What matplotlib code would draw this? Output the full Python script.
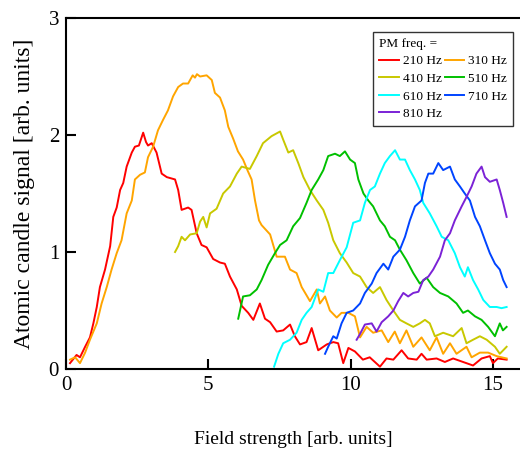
import matplotlib
matplotlib.use('Agg')
import matplotlib.pyplot as plt

plt.rcParams['font.family'] = ['Liberation Serif', 'DejaVu Serif']

# PM frequency series: field strength (x) and atomic candle signal (y)
x_210 = [0.14, 0.37, 0.49, 0.67, 0.84, 0.96, 1.08, 1.19, 1.37, 1.55, 1.66, 1.78, 1.90, 2.01, 2.13, 2.31,
         2.42, 2.56, 2.71, 2.81, 2.88, 3.01, 3.18, 3.36, 3.54, 3.83, 3.94, 4.06, 4.29, 4.41, 4.59, 4.76,
         4.94, 5.17, 5.41, 5.58, 5.76, 6.0, 6.17, 6.4, 6.58, 6.81, 6.99, 7.17, 7.40, 7.63, 7.87, 8.04,
         8.22, 8.45, 8.63, 8.86, 9.16, 9.39, 9.56, 9.74, 9.92, 10.15, 10.43, 10.67, 11.03, 11.26, 11.50,
         11.79, 12.02, 12.32, 12.49, 12.67, 13.02, 13.31, 13.60, 13.95, 14.30, 14.60, 14.89, 15.0, 15.17, 15.48]
y_210 = [0.05, 0.12, 0.10, 0.19, 0.27, 0.39, 0.53, 0.70, 0.85, 1.05, 1.30, 1.38, 1.53, 1.59, 1.73, 1.85,
         1.90, 1.91, 2.02, 1.94, 1.91, 1.93, 1.85, 1.67, 1.64, 1.62, 1.53, 1.36, 1.38, 1.36, 1.16, 1.06,
         1.04, 0.94, 0.91, 0.90, 0.79, 0.68, 0.54, 0.48, 0.42, 0.56, 0.43, 0.40, 0.32, 0.33, 0.38, 0.28,
         0.21, 0.23, 0.35, 0.16, 0.21, 0.23, 0.22, 0.05, 0.18, 0.15, 0.08, 0.10, 0.02, 0.09, 0.08,
         0.16, 0.09, 0.08, 0.13, 0.08, 0.09, 0.06, 0.09, 0.06, 0.03, 0.09, 0.11, 0.05, 0.09, 0.08]

x_310 = [0.14, 0.32, 0.49, 0.67, 0.84, 1.08, 1.25, 1.43, 1.60, 1.78, 1.95, 2.13, 2.31, 2.42, 2.60, 2.77,
         2.88, 3.06, 3.23, 3.41, 3.58, 3.76, 3.94, 4.11, 4.29, 4.45, 4.53, 4.60, 4.71, 4.94, 5.12, 5.23,
         5.41, 5.58, 5.70, 5.87, 6.04, 6.22, 6.39, 6.52, 6.64, 6.78, 6.87, 7.17, 7.40, 7.69, 7.87, 8.10,
         8.28, 8.45, 8.57, 8.81, 8.92, 9.10, 9.27, 9.51, 9.68, 9.92, 10.15, 10.33, 10.56, 10.79, 11.09,
         11.32, 11.55, 11.73, 11.96, 12.20, 12.49, 12.78, 13.02, 13.25, 13.49, 13.72, 14.07, 14.25, 14.54,
         14.83, 15.13, 15.48]
y_310 = [0.08, 0.10, 0.05, 0.14, 0.25, 0.39, 0.56, 0.70, 0.85, 0.99, 1.10, 1.33, 1.44, 1.62, 1.66, 1.68,
         1.81, 1.90, 2.04, 2.13, 2.21, 2.33, 2.41, 2.44, 2.44, 2.51, 2.49, 2.52, 2.50, 2.51, 2.47, 2.36,
         2.32, 2.21, 2.07, 1.97, 1.86, 1.79, 1.69, 1.62, 1.44, 1.27, 1.23, 1.15, 0.96, 0.96, 0.85, 0.82,
         0.70, 0.63, 0.58, 0.68, 0.56, 0.62, 0.50, 0.44, 0.48, 0.48, 0.45, 0.27, 0.36, 0.31, 0.33,
         0.23, 0.32, 0.22, 0.33, 0.19, 0.27, 0.16, 0.27, 0.13, 0.22, 0.13, 0.19, 0.10, 0.14,
         0.14, 0.11, 0.09]

x_410 = [3.83, 3.94, 4.06, 4.18, 4.36, 4.59, 4.71, 4.82, 4.94, 5.06, 5.29, 5.52, 5.76, 6.0, 6.17, 6.46,
         6.70, 6.92, 7.22, 7.52, 7.63, 7.81, 7.98, 8.16, 8.34, 8.57, 8.81, 9.04, 9.21, 9.39, 9.62, 9.86,
         10.09, 10.33, 10.56, 10.79, 11.03, 11.26, 11.5, 11.73, 11.96, 12.20, 12.43, 12.61, 12.78, 12.96,
         13.25, 13.60, 13.90, 14.07, 14.30, 14.54, 14.78, 15.07, 15.24, 15.48]
y_410 = [1.00, 1.05, 1.13, 1.10, 1.15, 1.16, 1.26, 1.30, 1.21, 1.33, 1.37, 1.50, 1.56, 1.67, 1.73, 1.71,
         1.82, 1.93, 1.99, 2.03, 1.96, 1.85, 1.87, 1.76, 1.64, 1.53, 1.44, 1.36, 1.25, 1.10, 0.99, 0.91,
         0.82, 0.79, 0.70, 0.65, 0.70, 0.59, 0.50, 0.42, 0.39, 0.36, 0.39, 0.42, 0.39, 0.28,
         0.31, 0.28, 0.35, 0.22, 0.25, 0.28, 0.25, 0.19, 0.13, 0.19]

x_510 = [6.05, 6.22, 6.46, 6.70, 6.87, 7.1, 7.34, 7.52, 7.75, 7.98, 8.22, 8.45, 8.63, 8.86, 9.04, 9.21,
         9.45, 9.62, 9.80, 9.98, 10.15, 10.27, 10.45, 10.62, 10.79, 11.03, 11.2, 11.38, 11.56, 11.73,
         11.96, 12.20, 12.43, 12.67, 12.90, 13.14, 13.43, 13.72, 13.95, 14.12, 14.37, 14.60, 14.83,
         15.07, 15.24, 15.35, 15.48]
y_510 = [0.43, 0.62, 0.63, 0.68, 0.76, 0.89, 0.99, 1.06, 1.10, 1.22, 1.29, 1.42, 1.53, 1.62, 1.70, 1.82,
         1.84, 1.82, 1.86, 1.79, 1.76, 1.62, 1.50, 1.44, 1.39, 1.27, 1.22, 1.13, 1.10, 1.02,
         0.93, 0.82, 0.73, 0.78, 0.70, 0.65, 0.62, 0.56, 0.48, 0.50, 0.45, 0.42, 0.36,
         0.28, 0.39, 0.33, 0.36]

x_610 = [7.31, 7.46, 7.63, 7.87, 8.10, 8.28, 8.45, 8.63, 8.86, 9.04, 9.21, 9.39, 9.62, 9.86, 10.09,
         10.33, 10.5, 10.68, 10.85, 11.03, 11.2, 11.38, 11.56, 11.73, 11.91, 12.08, 12.26, 12.43, 12.55,
         12.78, 13.02, 13.2, 13.43, 13.66, 13.84, 14.01, 14.12, 14.30, 14.48, 14.66, 14.89, 15.13, 15.3, 15.48]
y_610 = [0.02, 0.13, 0.22, 0.25, 0.31, 0.42, 0.48, 0.53, 0.68, 0.66, 0.82, 0.82, 0.93, 1.04, 1.25,
         1.27, 1.42, 1.53, 1.56, 1.67, 1.76, 1.82, 1.87, 1.79, 1.79, 1.70, 1.62, 1.53, 1.42,
         1.33, 1.22, 1.13, 1.10, 0.99, 0.87, 0.79, 0.87, 0.76, 0.68, 0.59, 0.53, 0.53, 0.52, 0.53]

x_710 = [9.10, 9.21, 9.39, 9.51, 9.68, 9.86, 10.09, 10.33, 10.50, 10.74, 10.91, 11.15, 11.32, 11.5,
         11.73, 11.91, 12.08, 12.26, 12.49, 12.61, 12.73, 12.90, 13.08, 13.25, 13.49, 13.66, 13.84,
         14.01, 14.19, 14.37, 14.54, 14.72, 14.89, 15.07, 15.24, 15.36, 15.48]
y_710 = [0.13, 0.19, 0.28, 0.26, 0.39, 0.48, 0.50, 0.56, 0.65, 0.73, 0.82, 0.90, 0.85, 0.96,
         1.02, 1.13, 1.27, 1.39, 1.44, 1.59, 1.67, 1.67, 1.76, 1.70, 1.73, 1.62, 1.56,
         1.50, 1.44, 1.30, 1.22, 1.10, 0.99, 0.90, 0.85, 0.76, 0.70]

x_810 = [10.21, 10.33, 10.50, 10.74, 10.91, 11.09, 11.32, 11.50, 11.67, 11.85, 12.02, 12.20, 12.38,
         12.55, 12.73, 12.90, 13.14, 13.31, 13.49, 13.66, 13.90, 14.07, 14.25, 14.42, 14.60, 14.72,
         14.89, 15.13, 15.24, 15.36, 15.48]
y_810 = [0.25, 0.30, 0.38, 0.39, 0.32, 0.40, 0.45, 0.50, 0.58, 0.65, 0.62, 0.65, 0.66,
         0.76, 0.79, 0.85, 0.96, 1.10, 1.16, 1.27, 1.39, 1.47, 1.56, 1.67, 1.73, 1.64,
         1.60, 1.62, 1.53, 1.42, 1.30]

labels = ['210 Hz', '310 Hz', '410 Hz', '510 Hz', '610 Hz', '710 Hz', '810 Hz']
colors = ['#ff0000', '#ffa500', '#c8c800', '#00c000', '#00ffff', '#0044ff', '#7b22d6']
series = [(x_210, y_210), (x_310, y_310), (x_410, y_410), (x_510, y_510),
          (x_610, y_610), (x_710, y_710), (x_810, y_810)]

fig = plt.figure(figsize=(5.2, 4.5), dpi=100)
ax = fig.add_axes([0.127, 0.18, 0.873, 0.78])

lines = []
for (xs, ys), lab, col in zip(series, labels, colors):
    ln, = ax.plot(xs, ys, color=col, lw=1.4, label=lab)
    lines.append(ln)

ax.set_xlim(0, 15.95)
ax.set_ylim(0, 3)
ax.set_xticks([0, 5, 10, 15])
ax.set_yticks([0, 1, 2, 3])
ax.tick_params(direction='in', length=7, width=1.5, labelsize=15, top=False, right=False, pad=5)
ax.spines['right'].set_visible(False)
for s in ['left', 'bottom', 'top']:
    ax.spines[s].set_linewidth(1.5)

ax.set_xlabel('Field strength [arb. units]', fontsize=14, labelpad=26)
ax.set_ylabel('Atomic candle signal [arb. units]', fontsize=17, labelpad=10)

# column-first order so rows read 210/310, 410/510, 610/710, 810
order = [0, 2, 4, 6, 1, 3, 5]
leg = ax.legend([lines[i] for i in order], [labels[i] for i in order], ncol=2,
                title='PM freq. =', title_fontsize=9.5, fontsize=9.5, alignment='left',
                loc='upper right', bbox_to_anchor=(0.985, 0.96), fancybox=False,
                edgecolor='#333333', framealpha=1, handlelength=1.5, handletextpad=0.3,
                columnspacing=0.2, labelspacing=0.4, borderpad=0.45, borderaxespad=0.0)
leg.get_frame().set_linewidth(1.0)

fig.savefig('out.png', dpi=100)
